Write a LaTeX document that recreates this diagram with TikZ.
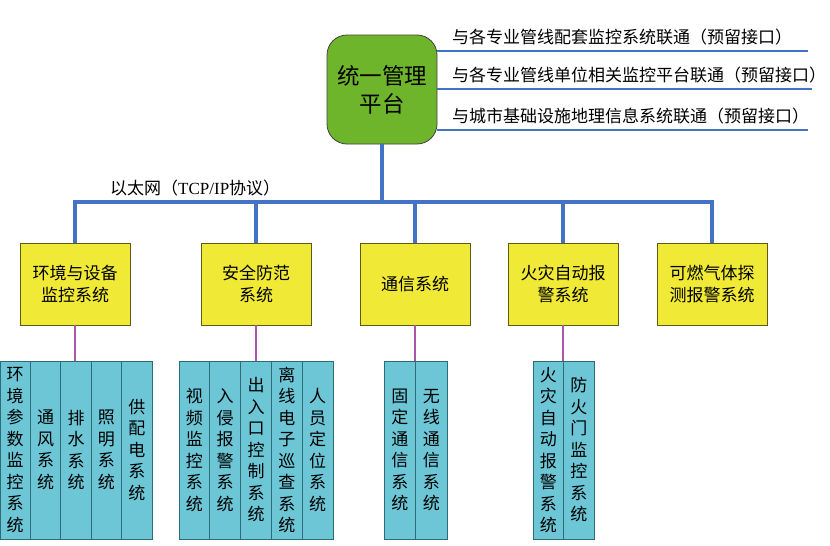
\documentclass[tikz,border=0pt]{standalone}
\usepackage{fontspec}
\setmainfont{Noto Sans CJK SC}
\newfontfamily\latinfont{Liberation Serif}
\usetikzlibrary{positioning,calc}
\definecolor{Ink}{HTML}{111111}
\definecolor{Leaf}{HTML}{6FB52C}
\definecolor{Bus}{HTML}{4472C4}
\definecolor{Lemon}{HTML}{F0E936}
\definecolor{Olive}{HTML}{5F5B16}
\definecolor{Aqua}{HTML}{6CC6D6}
\definecolor{Teal}{HTML}{2C6B78}
\definecolor{Plum}{HTML}{A957A9}
\tikzset{
  platbox/.style={draw=Ink!80, fill=Leaf, line width=0.8pt, rounded corners=20pt,
    minimum width=110pt, minimum height=109pt, align=center, inner sep=0pt,
    font=\fontsize{22.5pt}{28pt}\selectfont},
  sysbox/.style={draw=Olive, fill=Lemon, line width=0.8pt, minimum width=110pt,
    minimum height=82pt, align=center, inner sep=0pt,
    font=\fontsize{17pt}{22pt}\selectfont},
  subbox/.style={draw=Teal, fill=Aqua, line width=0.8pt, minimum height=178pt,
    align=center, inner sep=0pt, font=\fontsize{17pt}{21.5pt}\selectfont},
  linktext/.style={anchor=west, inner sep=0pt, font=\fontsize{17pt}{20pt}\selectfont},
  link/.style={Bus, line width=1.6pt},
  bus/.style={Bus, line width=4.5pt},
  feed/.style={Plum, line width=2pt}
}
% one group of vertical sub-system columns
\newcommand{\subsys}[4]{
  \foreach \txt [count=\k] in {#4} {
    \node[subbox, minimum width=#3pt] (#1\k) at ({#2+(\k-0.5)*#3},450) {\txt};
  }
}

\begin{document}
\begin{tikzpicture}[x=1pt, y=-1pt]
  \useasboundingbox (0,0) rectangle (830,546);

  % platform and its links
  \node[platbox] (plat) at (382,89.5) {统一管理\\平台};
  \coordinate (e1) at (808,51);
  \coordinate (e2) at (812,89);
  \coordinate (e3) at (808,130);
  \draw[link] (plat.east |- e1) -- (e1);
  \draw[link] (plat.east |- e2) -- (e2);
  \draw[link] (plat.east |- e3) -- (e3);
  \node[linktext] (l1) at (452,37) {与各专业管线配套监控系统联通（预留接口）};
  \node[linktext] (l2) at (452,75) {与各专业管线单位相关监控平台联通（预留接口）};
  \node[linktext] (l3) at (452,116) {与城市基础设施地理信息系统联通（预留接口）};

  % systems
  \node[sysbox] (sys1) at (75,284) {环境与设备\\监控系统};
  \node[sysbox] (sys2) at (256,284) {安全防范\\系统};
  \node[sysbox] (sys3) at (415,284) {通信系统};
  \node[sysbox] (sys4) at (563,284) {火灾自动报\\警系统};
  \node[sysbox] (sys5) at (712,284) {可燃气体探\\测报警系统};

  % ethernet bus
  \coordinate (hub) at (382,202);
  \draw[bus] (plat.south) -- (hub);
  \draw[bus] (sys1.north) |- (hub) -| (sys5.north);
  \foreach \s in {2,3,4}
    \draw[bus] (sys\s.north) -- (sys\s.north |- hub);
  \node[anchor=west, inner sep=0pt, font=\fontsize{17pt}{19pt}\selectfont] (eth)
    at (110,188) {以太网（{\latinfont TCP/IP}协议）};

  % sub-systems
  \subsys{env}{0}{30.4}{{环\\境\\参\\数\\监\\控\\系\\统},{通\\风\\系\\统},{排\\水\\系\\统},{照\\明\\系\\统},{供\\配\\电\\系\\统}}
  \subsys{sec}{179}{30.8}{{视\\频\\监\\控\\系\\统},{入\\侵\\报\\警\\系\\统},{出\\入\\口\\控\\制\\系\\统},{离\\线\\电\\子\\巡\\查\\系\\统},{人\\员\\定\\位\\系\\统}}
  \subsys{com}{384}{31.5}{{固\\定\\通\\信\\系\\统},{无\\线\\通\\信\\系\\统}}
  \subsys{fire}{533}{30.5}{{火\\灾\\自\\动\\报\\警\\系\\统},{防\\火\\门\\监\\控\\系\\统}}

  \draw[feed] (sys1.south) -- (sys1.south |- env1.north);
  \draw[feed] (sys2.south) -- (sys2.south |- sec1.north);
  \draw[feed] (sys3.south) -- (sys3.south |- com1.north);
  \draw[feed] (sys4.south) -- (sys4.south |- fire1.north);
\end{tikzpicture}
\end{document}
